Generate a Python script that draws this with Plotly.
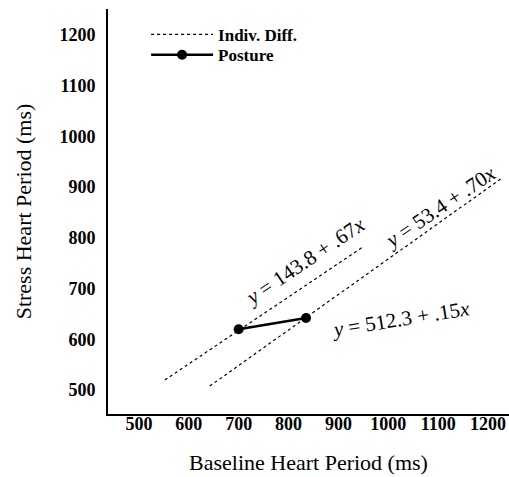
import plotly.graph_objects as go

# Data
indiv1_x = [552, 949]
indiv1_y = [520, 782]
indiv2_x = [642, 1228]
indiv2_y = [508, 918]
posture_x = [700, 835]
posture_y = [620, 642]

x_ticks = [500, 600, 700, 800, 900, 1000, 1100, 1200]
y_ticks = [500, 600, 700, 800, 900, 1000, 1100, 1200]

eq_labels = ["<i>y</i> = 143.8 + .67<i>x</i>", "<i>y</i> = 53.4 + .70<i>x</i>", "<i>y</i> = 512.3 + .15<i>x</i>"]
eq_x = [833, 1104, 1025]
eq_y = [755, 860, 641]
eq_angle = [-34, -34, -9]

SERIF = "Liberation Serif"

fig = go.Figure()
fig.add_trace(go.Scatter(x=indiv1_x, y=indiv1_y, mode="lines", name="Indiv. Diff.",
                         line=dict(color="black", width=1.2, dash="3px,3px"),
                         legendgroup="ind", showlegend=True, legend="legend"))
fig.add_trace(go.Scatter(x=indiv2_x, y=indiv2_y, mode="lines", name="Indiv. Diff.",
                         line=dict(color="black", width=1.2, dash="3px,3px"),
                         legendgroup="ind", showlegend=False, legend="legend"))
fig.add_trace(go.Scatter(x=posture_x, y=posture_y, mode="lines+markers", name="Posture",
                         line=dict(color="black", width=2.5),
                         marker=dict(color="black", size=10), legend="legend2"))

for t, x, y, a in zip(eq_labels, eq_x, eq_y, eq_angle):
    fig.add_annotation(x=x, y=y, text=t, textangle=a, showarrow=False,
                       font=dict(family=SERIF, size=21, color="black"))

leg_common = dict(xanchor="left", yanchor="middle", bgcolor="rgba(0,0,0,0)",
                  font=dict(family=SERIF, size=17, color="black", weight="bold"),
                  itemwidth=62)

fig.update_layout(
    width=509, height=477,
    margin=dict(l=108, r=0, t=9, b=63),
    paper_bgcolor="white", plot_bgcolor="white",
    font=dict(family=SERIF, color="black"),
    showlegend=True,
    legend=dict(x=0.095, y=0.936, **leg_common),
    legend2=dict(x=0.095, y=0.886, **leg_common),
    xaxis=dict(range=[438, 1242], tickvals=x_ticks, ticktext=[str(v) for v in x_ticks],
               showgrid=False, zeroline=False, showline=True, linecolor="black", linewidth=2,
               ticks="", ticklabelstandoff=-8,
               tickfont=dict(family=SERIF, size=18, color="black", weight="bold"),
               title=dict(text="Baseline Heart Period (ms)", standoff=22,
                          font=dict(family=SERIF, size=22, color="black"))),
    yaxis=dict(range=[453, 1251], tickvals=y_ticks, ticktext=[str(v) for v in y_ticks],
               showgrid=False, zeroline=False, showline=True, linecolor="black", linewidth=2,
               ticks="", ticklabelstandoff=7,
               tickfont=dict(family=SERIF, size=18, color="black", weight="bold"),
               title=dict(text="Stress Heart Period (ms)", standoff=22,
                          font=dict(family=SERIF, size=22, color="black"))),
)

fig.write_html("out.html", config={"displayModeBar": False},
               post_script="document.body.style.margin='0';document.body.style.overflow='hidden';")
